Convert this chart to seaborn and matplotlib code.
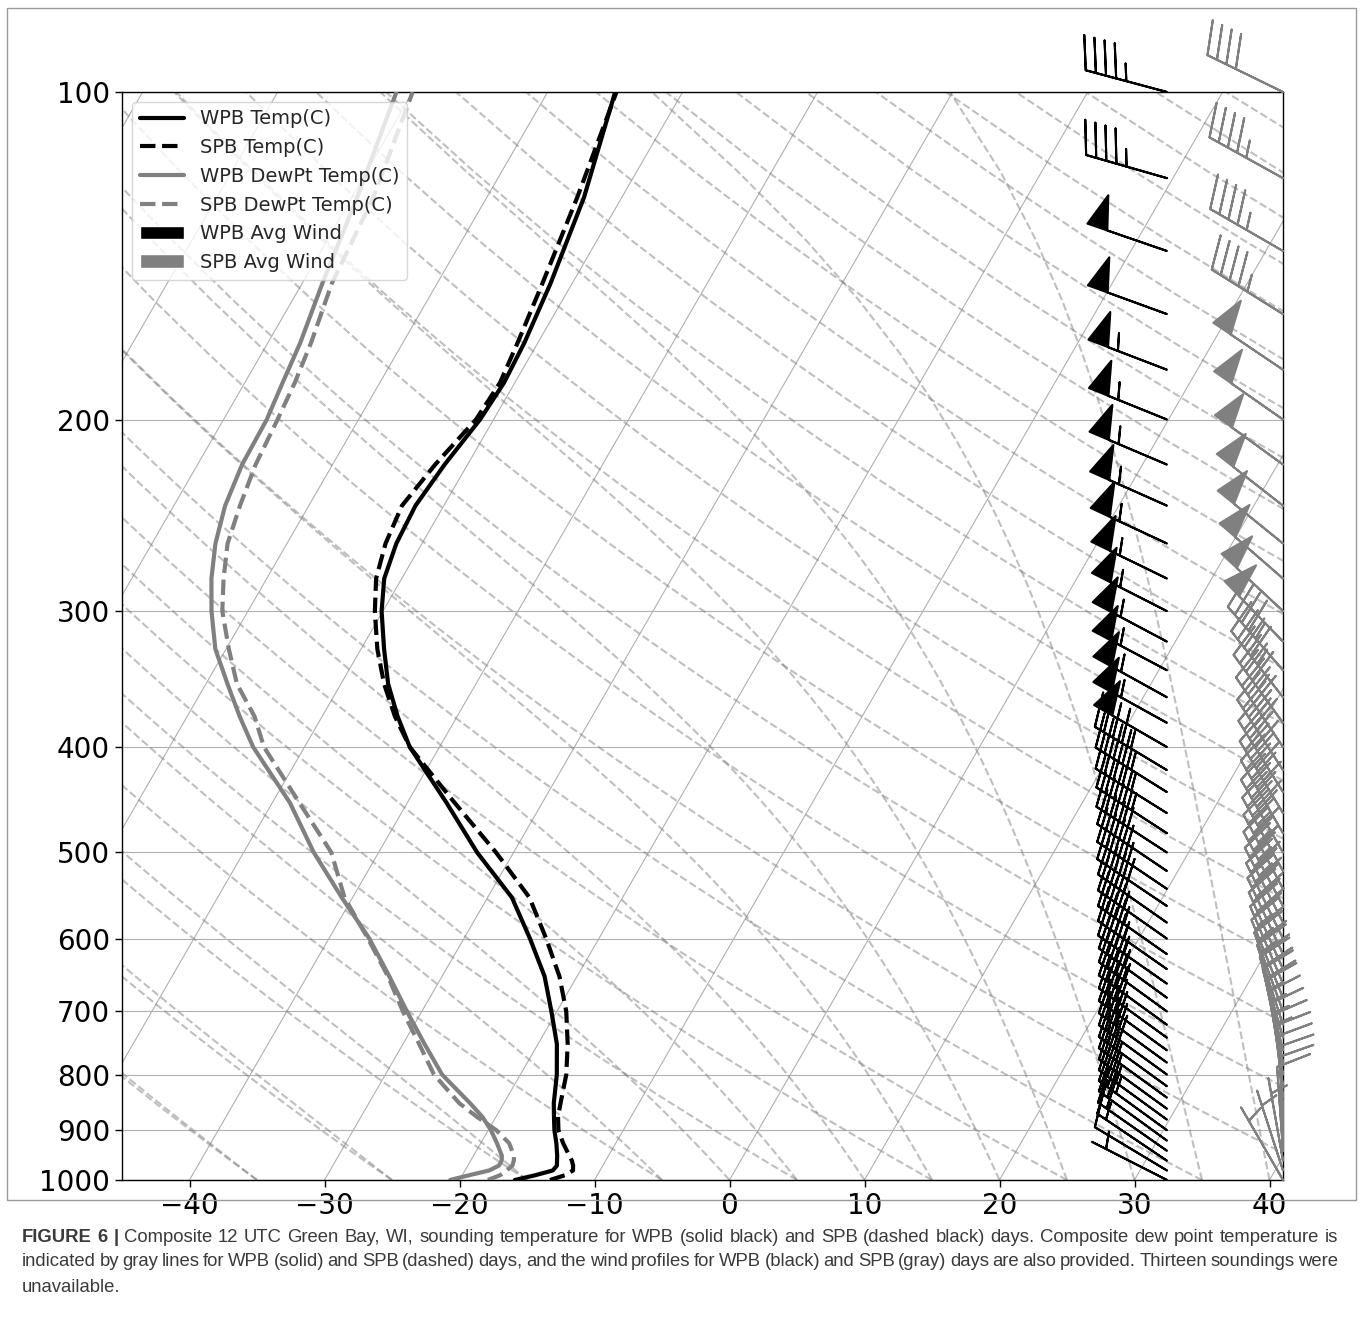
import numpy as np
import matplotlib
matplotlib.use("Agg")
import matplotlib.pyplot as plt
import seaborn as sns
from matplotlib.lines import Line2D
from matplotlib.patches import Patch, Rectangle
from matplotlib.ticker import ScalarFormatter, NullLocator
from matplotlib.transforms import blended_transform_factory

# ---- composite profiles (pressure hPa, temperature degC) ----
pressure = [1000, 990, 980, 970, 960, 950, 925, 900, 875, 850, 800, 750, 700, 650, 600,
            550, 500, 450, 400, 375, 350, 325, 300, 280, 260, 240, 220, 200, 185, 170,
            150, 125, 100]

wpb_temp = [-15.9, -14.6, -13.5, -13.4, -13.6, -13.8, -14.4, -15.1, -15.7, -16.3, -17.3,
            -18.6, -20.4, -22.4, -25.1, -28.2, -32.7, -37.1, -42.2, -44.4, -46.5, -48.3,
            -50.1, -51.3, -51.9, -52.1, -51.7, -51.0, -50.8, -51.0, -51.6, -52.8, -55.0]
spb_temp = [-13.3, -12.4, -12.0, -12.2, -12.5, -12.9, -13.9, -14.8, -15.4, -15.8, -16.6,
            -17.8, -19.3, -21.3, -23.9, -26.9, -31.3, -36.5, -42.2, -44.6, -46.8, -48.8,
            -50.6, -51.9, -52.7, -53.1, -52.4, -51.3, -51.1, -51.5, -52.2, -53.3, -54.9]
wpb_dewpt = [-20.7, -19.5, -18.2, -17.7, -17.7, -17.9, -18.8, -19.8, -21.0, -22.5, -25.8,
             -28.4, -31.1, -33.9, -37.0, -40.8, -44.8, -48.7, -53.8, -56.1, -58.4, -60.8,
             -62.7, -64.1, -65.3, -66.2, -66.7, -66.8, -67.2, -67.6, -68.5, -69.6, -71.2]
spb_dewpt = [-17.9, -17.2, -16.9, -16.7, -16.8, -17.0, -17.9, -19.4, -21.4, -23.3, -26.4,
             -28.8, -31.4, -34.0, -37.1, -40.6, -43.5, -48.0, -53.0, -55.0, -57.7, -59.8,
             -61.9, -63.2, -64.4, -65.1, -65.7, -66.0, -66.3, -66.8, -67.8, -68.4, -70.0]

# ---- average winds, every 20 hPa from 100 to 1000 ----
wind_p = list(range(100, 1001, 20))
wpb_speed = [45, 45, 50, 50, 55, 55, 55, 55, 55, 55, 55, 55, 55, 55, 55, 50, 45, 45, 45, 45,
             40, 40, 40, 40, 40, 35, 35, 35, 35, 35, 35, 30, 30, 30, 30, 30, 30, 25, 25, 25,
             25, 20, 20, 15, 10, 5]
wpb_dir = [285, 286, 289, 290, 291, 292, 293, 294, 295, 296, 297, 298, 298, 299, 299, 300,
           301, 302, 302, 303, 303, 304, 304, 304, 305, 305, 305, 305, 305, 306, 306, 306,
           306, 306, 306, 306, 306, 306, 306, 306, 306, 306, 305, 304, 301, 297]
spb_speed = [40, 45, 45, 45, 50, 50, 50, 50, 50, 50, 50, 50, 45, 45, 45, 45, 40, 40, 40, 40,
             40, 35, 35, 35, 35, 30, 30, 30, 25, 25, 25, 20, 20, 20, 15, 15, 15, 15, 10, 10,
             10, 10, 10, 5, 5, 5]
spb_dir = [296, 299, 300, 302, 304, 305, 306, 308, 309, 311, 313, 316, 319, 322, 324, 326,
           327, 328, 329, 330, 330, 331, 332, 332, 333, 334, 335, 336, 337, 338, 340, 342,
           344, 346, 348, 350, 352, 354, 356, 357, 358, 358, 356, 350, 342, 330]

x_ticks = [-40, -30, -20, -10, 0, 10, 20, 30, 40]
p_ticks = [100, 200, 300, 400, 500, 600, 700, 800, 900, 1000]

caption_bold = "FIGURE 6 |"
caption_lines = [
    "Composite 12 UTC Green Bay, WI, sounding temperature for WPB (solid black) and SPB "
    "(dashed black) days. Composite dew point temperature is",
    "indicated by gray lines for WPB (solid) and SPB (dashed) days, and the wind profiles "
    "for WPB (black) and SPB (gray) days are also provided. Thirteen soundings were",
    "unavailable.",
]

sns.set_style("ticks")
plt.rcParams.update({"axes.edgecolor": "black", "xtick.color": "black",
                     "ytick.color": "black", "axes.linewidth": 1.0})

W, H = 1360, 1326
fig = plt.figure(figsize=(W / 100, H / 100), dpi=100)
ax = fig.add_axes([122 / W, 1 - 1180 / H, (1283 - 122) / W, (1180 - 92) / H])

XMIN, XMAX = -45, 41
ax.set_yscale("log")
ax.set_ylim(1000, 100)
ax.set_xlim(XMIN, XMAX)

# skew factor: isotherms tilted 30 degrees on screen
ax_w = (1283 - 122)
ax_h = (1180 - 92)
SKEW = np.tan(np.radians(30)) * (ax_h / np.log(10)) / (ax_w / (XMAX - XMIN))


def skew(t, p):
    return np.asarray(t, float) + SKEW * np.log(1000.0 / np.asarray(p, float))


# isotherms
p_line = np.array([1000.0, 100.0])
for t in range(-160, 50, 10):
    ax.plot(skew(t, p_line), p_line, color="#b0b0b0", lw=0.8, zorder=1)
ax.yaxis.grid(True, color="#b0b0b0", lw=0.8)
ax.set_axisbelow(True)

# dry adiabats
Rd, Cp, Lv, eps = 287.04, 1005.7, 2.501e6, 0.622
p_adi = np.linspace(1000, 100, 50)
t0_dry = np.arange(XMIN, XMAX + 201, 10)
for t0 in t0_dry:
    t = (t0 + 273.15) * (p_adi / 1000.0) ** (Rd / Cp) - 273.15
    ax.plot(skew(t, p_adi), p_adi, color="gray", alpha=0.5, lw=1.5, ls="--", zorder=1)


# moist adiabats
def dtdp(T, p):
    tc = T - 273.15
    es = 6.112 * np.exp(17.67 * tc / (tc + 243.5))
    rs = eps * es / np.maximum(p - es, 1e-3)
    return (Rd * T + Lv * rs) / (p * (Cp + Lv * Lv * rs * eps / (Rd * T * T)))


t0_moist = np.concatenate((np.arange(XMIN, 0, 10), np.arange(0, XMAX + 1, 5)))
T = t0_moist + 273.15
moist = [T.copy()]
for i in range(1, len(p_adi)):
    pa, pb = p_adi[i - 1], p_adi[i]
    n = 20
    h = (pb - pa) / n
    pp = pa
    for _ in range(n):
        k1 = dtdp(T, pp)
        k2 = dtdp(T + 0.5 * h * k1, pp + 0.5 * h)
        k3 = dtdp(T + 0.5 * h * k2, pp + 0.5 * h)
        k4 = dtdp(T + h * k3, pp + h)
        T = T + h * (k1 + 2 * k2 + 2 * k3 + k4) / 6
        pp += h
    moist.append(T.copy())
moist = np.array(moist) - 273.15
for j in range(len(t0_moist)):
    ax.plot(skew(moist[:, j], p_adi), p_adi, color="gray", alpha=0.5, lw=1.5, ls="--",
            zorder=1)

# profiles
sns.lineplot(x=skew(wpb_temp, pressure), y=pressure, sort=False, estimator=None, ax=ax,
             color="black", lw=3, zorder=4)
sns.lineplot(x=skew(spb_temp, pressure), y=pressure, sort=False, estimator=None, ax=ax,
             color="black", lw=3, ls="--", zorder=4)
sns.lineplot(x=skew(wpb_dewpt, pressure), y=pressure, sort=False, estimator=None, ax=ax,
             color="gray", lw=3, zorder=4)
sns.lineplot(x=skew(spb_dewpt, pressure), y=pressure, sort=False, estimator=None, ax=ax,
             color="gray", lw=3, ls="--", zorder=4)


# wind barbs
def uv(speed, direction):
    s = np.asarray(speed, float)
    d = np.radians(direction)
    return -s * np.sin(d), -s * np.cos(d)


trans = blended_transform_factory(ax.transAxes, ax.transData)
u1, v1 = uv(wpb_speed, wpb_dir)
u2, v2 = uv(spb_speed, spb_dir)
ax.barbs(np.full(len(wind_p), 0.9), wind_p, u1, v1, transform=trans, clip_on=False,
         length=11, color="black", linewidth=1.5, zorder=6)
ax.barbs(np.full(len(wind_p), 1.0), wind_p, u2, v2, transform=trans, clip_on=False,
         length=11, color="gray", linewidth=1.5, zorder=6)

# axes and ticks
ax.set_xticks(x_ticks)
ax.set_yticks(p_ticks)
ax.yaxis.set_major_formatter(ScalarFormatter())
ax.yaxis.set_minor_locator(NullLocator())
ax.tick_params(axis="both", labelsize=20, length=5, width=1)
ax.set_xlabel("")
ax.set_ylabel("")

handles = [
    Line2D([], [], color="black", lw=3),
    Line2D([], [], color="black", lw=3, ls="--"),
    Line2D([], [], color="gray", lw=3),
    Line2D([], [], color="gray", lw=3, ls="--"),
    Patch(facecolor="black"),
    Patch(facecolor="gray"),
]
labels = ["WPB Temp(C)", "SPB Temp(C)", "WPB DewPt Temp(C)", "SPB DewPt Temp(C)",
          "WPB Avg Wind", "SPB Avg Wind"]
leg = ax.legend(handles, labels, loc="upper left", fontsize=14, handlelength=2.3,
                labelspacing=0.5, frameon=True, framealpha=0.8)
leg.set_zorder(10)

# frame around the chart and caption
fig.add_artist(Rectangle((7 / W, 1 - 1200 / H), (1356 - 7) / W, (1200 - 8) / H,
                         transform=fig.transFigure, fill=False, edgecolor="#9a9a9a", lw=1))

cap_font = ["Liberation Sans", "DejaVu Sans"]
cap_color = "#3a3a3a"
cap_size = 13.3
cap_y = [1237, 1262, 1287]
cap_left, cap_right = 22, 1338
renderer = fig.canvas.get_renderer()


def justified_line(words, y, justify=True):
    # words: list of (text, bold); spread them so the line fills the column
    arts = []
    for w, b in words:
        arts.append(fig.text(0, 1 - y / H, w, fontsize=cap_size, family=cap_font,
                             fontweight="bold" if b else "normal", color=cap_color,
                             va="center", ha="left"))
    widths = [a.get_window_extent(renderer).width for a in arts]
    if justify and len(arts) > 1:
        gap = (cap_right - cap_left - sum(widths)) / (len(arts) - 1)
    else:
        gap = cap_size * 0.28 * 100 / 72
    x = cap_left
    for a, wd in zip(arts, widths):
        a.set_x(x / W)
        x += wd + gap


first = [(w, True) for w in caption_bold.split()] + \
        [(w, False) for w in caption_lines[0].split()]
justified_line(first, cap_y[0])
justified_line([(w, False) for w in caption_lines[1].split()], cap_y[1])
justified_line([(w, False) for w in caption_lines[2].split()], cap_y[2], justify=False)

fig.savefig("out.png", dpi=100)
